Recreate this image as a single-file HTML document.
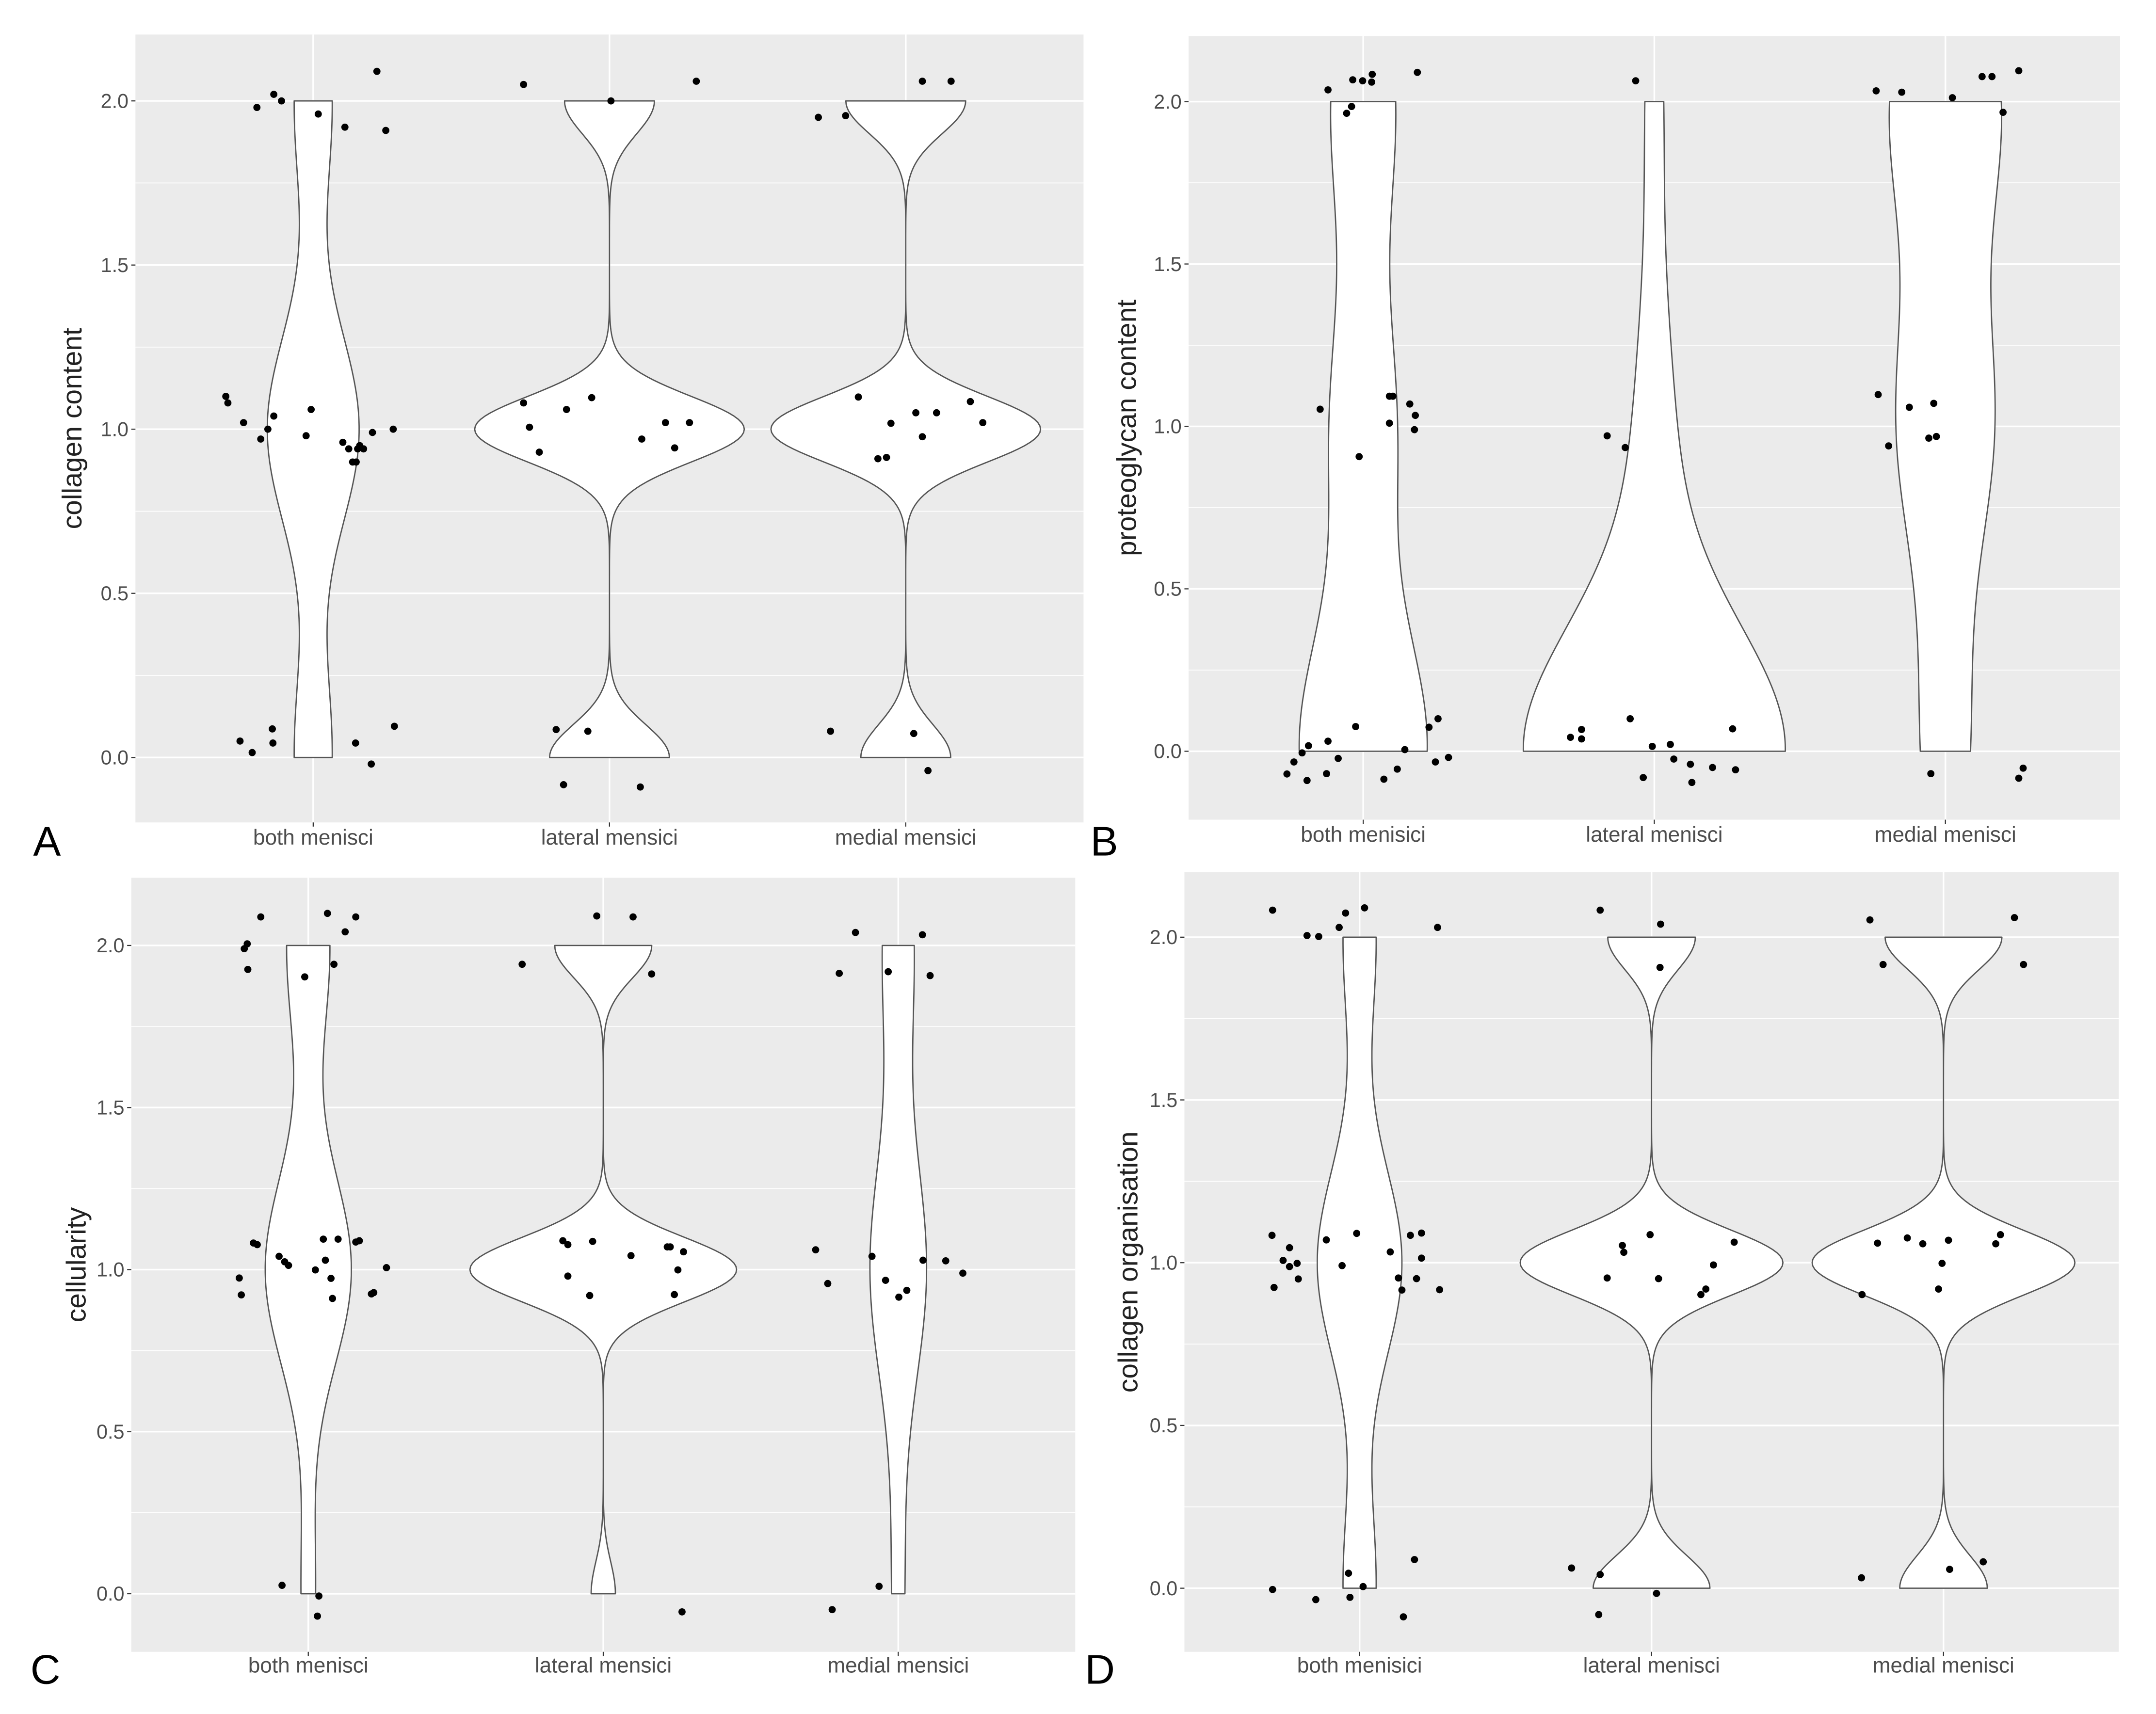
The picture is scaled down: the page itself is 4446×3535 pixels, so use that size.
<!DOCTYPE html>
<html><head><meta charset="utf-8"><style>
html,body{margin:0;padding:0;background:#fff;}
svg{display:block;}
text{font-family:"Liberation Sans",sans-serif;}
</style></head><body>
<svg id="fig" xmlns="http://www.w3.org/2000/svg" width="4446" height="3535" viewBox="0 0 1560 1240" preserveAspectRatio="none"></svg>
<script>
const categories = ["both menisci", "lateral mensici", "medial mensici"];
const categoriesB = ["both menisici", "lateral menisci", "medial menisci"];
const yTicks = [0, 0.5, 1, 1.5, 2];
const yTickLabels = ["0.0", "0.5", "1.0", "1.5", "2.0"];
const yMinor = [0.25, 0.75, 1.25, 1.75];

// violin density inputs: counts at scores 0,1,2 ; bandwidth ; max half-width (category units)
const countsA = [[7,17,7],[4,9,3],[3,9,4]];
const bwA = [0.3,0.1,0.1];
const maxWA = [0.155,0.455,0.455];
const countsB = [[16,8,8],[15,2,1],[3,6,7]];
const bwB = [0.38,0.4,0.4];
const maxWB = [0.22,0.45,0.193];
const countsC = [[3,18,9],[1,11,4],[2,9,5]];
const bwC = [0.3,0.1,0.35];
const maxWC = [0.146,0.452,0.096];
const countsD = [[7,18,7],[4,9,3],[3,9,4]];
const bwD = [0.3,0.1,0.1];
const maxWD = [0.145,0.45,0.45];

// jittered points: [x-jitter (category units), value]
const ptsA = [
 [[-0.295,1.10],[-0.288,1.08],[-0.235,1.02],[-0.133,1.04],[-0.153,1.00],[-0.177,0.97],[-0.007,1.06],[-0.024,0.98],[0.10,0.96],[0.12,0.94],[0.133,0.90],[0.145,0.90],[0.157,0.95],[0.17,0.94],[0.15,0.94],[0.20,0.99],[0.27,1.00],[-0.19,1.98],[-0.133,2.02],[-0.107,2.00],[0.017,1.96],[0.107,1.92],[0.215,2.09],[0.245,1.91],[-0.247,0.05],[-0.206,0.015],[-0.138,0.087],[-0.136,0.044],[0.143,0.044],[0.196,-0.02],[0.274,0.095]],
 [[-0.29,2.05],[0.005,2.00],[0.293,2.06],[-0.29,1.08],[-0.27,1.006],[-0.237,0.93],[-0.145,1.06],[-0.06,1.096],[0.109,0.97],[0.189,1.02],[0.22,0.943],[0.27,1.02],[-0.18,0.085],[-0.073,0.08],[-0.155,-0.083],[0.104,-0.09]],
 [[-0.295,1.95],[-0.203,1.955],[0.056,2.06],[0.153,2.06],[-0.16,1.098],[-0.05,1.018],[-0.094,0.91],[-0.065,0.914],[0.034,1.05],[0.056,0.977],[0.104,1.05],[0.218,1.084],[0.26,1.02],[-0.254,0.08],[0.027,0.073],[0.075,-0.04]]
];
const ptsB = [
 [[-0.121,2.036],[-0.036,2.067],[-0.002,2.064],[0.029,2.06],[0.031,2.084],[0.186,2.09],[-0.057,1.964],[-0.04,1.985],[-0.148,1.053],[-0.014,0.907],[0.09,1.093],[0.102,1.093],[0.09,1.01],[0.16,1.069],[0.179,1.034],[0.176,0.99],[-0.262,-0.07],[-0.238,-0.033],[-0.21,-0.005],[-0.188,0.017],[-0.193,-0.09],[-0.126,-0.069],[-0.121,0.031],[-0.086,-0.022],[-0.026,0.076],[0.071,-0.086],[0.117,-0.055],[0.143,0.005],[0.226,0.074],[0.257,0.1],[0.248,-0.033],[0.293,-0.019]],
 [[-0.064,2.064],[-0.162,0.971],[-0.1,0.935],[-0.288,0.043],[-0.25,0.067],[-0.25,0.038],[-0.083,0.1],[-0.007,0.015],[0.055,0.021],[0.067,-0.024],[0.124,-0.04],[0.129,-0.096],[0.2,-0.05],[0.269,0.069],[0.279,-0.057],[-0.038,-0.081]],
 [[-0.238,2.033],[-0.15,2.029],[0.024,2.012],[0.126,2.077],[0.16,2.077],[0.252,2.095],[0.198,1.967],[-0.231,1.098],[-0.124,1.059],[-0.04,1.071],[-0.195,0.94],[-0.057,0.964],[-0.031,0.969],[-0.05,-0.069],[0.252,-0.083],[0.267,-0.052]]
];
const ptsC = [
 [[-0.217,1.99],[-0.207,2.005],[-0.161,2.088],[-0.205,1.926],[-0.012,1.903],[0.065,2.099],[0.087,1.942],[0.125,2.042],[0.161,2.088],[-0.234,0.974],[-0.227,0.922],[-0.186,1.082],[-0.173,1.077],[-0.099,1.041],[-0.08,1.024],[-0.067,1.013],[0.024,0.999],[0.051,1.094],[0.058,1.029],[0.077,0.973],[0.082,0.911],[0.101,1.094],[0.161,1.085],[0.173,1.089],[0.214,0.925],[0.222,0.929],[0.265,1.006],[-0.089,0.026],[0.036,-0.007],[0.031,-0.069]],
 [[-0.275,1.942],[-0.022,2.091],[0.101,2.088],[0.164,1.912],[-0.137,1.089],[-0.12,1.077],[-0.036,1.087],[-0.12,0.98],[-0.046,0.92],[0.094,1.043],[0.217,1.07],[0.227,1.07],[0.272,1.055],[0.253,0.999],[0.241,0.923],[0.267,-0.056]],
 [[-0.145,2.04],[0.082,2.033],[-0.2,1.914],[-0.034,1.919],[0.108,1.907],[-0.28,1.061],[-0.239,0.957],[-0.089,1.041],[-0.043,0.967],[0.002,0.915],[0.029,0.936],[0.084,1.029],[0.161,1.027],[0.219,0.989],[-0.065,0.023],[-0.224,-0.049]]
];
const ptsD = [
 [[-0.298,2.083],[-0.18,2.005],[-0.14,2.002],[-0.07,2.03],[-0.048,2.074],[0.017,2.09],[0.267,2.03],[-0.3,1.084],[-0.293,0.924],[-0.262,1.007],[-0.24,1.046],[-0.24,0.988],[-0.214,0.998],[-0.21,0.95],[-0.114,1.07],[-0.06,0.991],[-0.01,1.09],[0.105,1.033],[0.133,0.953],[0.145,0.916],[0.174,1.084],[0.195,0.951],[0.212,1.091],[0.212,1.014],[0.274,0.917],[-0.298,-0.004],[-0.15,-0.035],[-0.038,0.046],[0.012,0.005],[-0.033,-0.028],[0.15,-0.088],[0.188,0.088]],
 [[-0.176,2.083],[0.031,2.04],[0.029,1.907],[-0.1,1.053],[-0.095,1.032],[-0.005,1.086],[-0.152,0.953],[0.024,0.951],[0.169,0.902],[0.186,0.919],[0.212,0.993],[0.283,1.063],[-0.274,0.062],[-0.176,0.042],[-0.181,-0.081],[0.017,-0.016]],
 [[-0.252,2.053],[0.243,2.06],[-0.207,1.916],[0.274,1.916],[-0.226,1.06],[-0.124,1.076],[-0.071,1.058],[0.017,1.069],[-0.005,0.998],[-0.017,0.919],[0.179,1.058],[0.195,1.086],[-0.279,0.902],[-0.281,0.032],[0.021,0.058],[0.136,0.081]]
];

const NS = "http://www.w3.org/2000/svg";
const svg = document.getElementById("fig");
function mk(tag, attrs, parent) {
  const e = document.createElementNS(NS, tag);
  for (const k in attrs) e.setAttribute(k, attrs[k]);
  (parent || svg).appendChild(e);
  return e;
}

const panels = [
  {id:"a", letter:"A", title:"collagen content", cats:categories, counts:countsA, bw:bwA, maxW:maxWA, pts:ptsA,
   left:98, right:784, top:25, bottom:595, y2:73, y0:548, titleX:59, letterX:24, letterY:619, tickY:611},
  {id:"b", letter:"B", title:"proteoglycan content", cats:categoriesB, counts:countsB, bw:bwB, maxW:maxWB, pts:ptsB,
   left:860, right:1534, top:26, bottom:593, y2:73.5, y0:543.5, titleX:822, letterX:789, letterY:619, tickY:609},
  {id:"c", letter:"C", title:"cellularity", cats:categories, counts:countsC, bw:bwC, maxW:maxWC, pts:ptsC,
   left:95, right:778, top:635, bottom:1195, y2:684, y0:1153, titleX:62, letterX:22, letterY:1218, tickY:1210},
  {id:"d", letter:"D", title:"collagen organisation", cats:categoriesB, counts:countsD, bw:bwD, maxW:maxWD, pts:ptsD,
   left:857, right:1533, top:631, bottom:1195, y2:678, y0:1149, titleX:823, letterX:785, letterY:1218, tickY:1210}
];

panels.forEach(p => {
  const g = mk("g", {});
  
  
  const W = p.right - p.left;
  const sp = W / 3.2;
  const xs = i => p.left + (i + 0.6) * sp;
  const ys = v => p.y0 + (p.y2 - p.y0) * v / 2;

  const bg = mk("rect", {x:p.left, y:p.top, width:W, height:p.bottom - p.top, fill:"#ebebeb"}, g);
  
  
  yMinor.forEach(v => {
    const l = mk("line", {x1:p.left, x2:p.right, y1:ys(v), y2:ys(v), stroke:"#fff", "stroke-width":0.6}, g);
    
    
  });
  yTicks.forEach((v, i) => {
    const l = mk("line", {x1:p.left, x2:p.right, y1:ys(v), y2:ys(v), stroke:"#fff", "stroke-width":1.2}, g);
    
    
    const tk = mk("line", {x1:p.left - 3, x2:p.left, y1:ys(v), y2:ys(v), stroke:"#333", "stroke-width":0.8}, g);
    
    
    const t = mk("text", {x:p.left - 5, y:ys(v) + 5, "text-anchor":"end", "font-size":14.5, fill:"#4d4d4d"}, g);
    t.textContent = yTickLabels[i];
    
    
  });
  p.cats.forEach((c, i) => {
    const l = mk("line", {x1:xs(i), x2:xs(i), y1:p.top, y2:p.bottom, stroke:"#fff", "stroke-width":1.2}, g);
    
    
    const tk = mk("line", {x1:xs(i), x2:xs(i), y1:p.bottom, y2:p.bottom + 3, stroke:"#333", "stroke-width":0.8}, g);
    
    
    const t = mk("text", {x:xs(i), y:p.tickY, "text-anchor":"middle", "font-size":15.5, fill:"#4d4d4d"}, g);
    t.textContent = c;
    
    
  });

  // violins
  p.counts.forEach((cnt, i) => {
    const bw = p.bw[i];
    const dens = y => cnt.reduce((s, n, k) => s + n * Math.exp(-((y - k) * (y - k)) / (2 * bw * bw)), 0);
    const N = 200;
    let mx = 0; const ds = [];
    for (let j = 0; j <= N; j++) { const y = 2 * j / N; const d = dens(y); ds.push([y, d]); if (d > mx) mx = d; }
    const half = ds.map(([y, d]) => [y, d / mx * p.maxW[i] * sp]);
    let dStr = "";
    half.forEach(([y, h], j) => { dStr += (j ? "L" : "M") + (xs(i) + h).toFixed(2) + "," + ys(y).toFixed(2); });
    for (let j = half.length - 1; j >= 0; j--) { dStr += "L" + (xs(i) - half[j][1]).toFixed(2) + "," + ys(half[j][0]).toFixed(2); }
    dStr += "Z";
    const v = mk("path", {d:dStr, fill:"#fff", stroke:"#555", "stroke-width":0.95, "stroke-linejoin":"round"}, g);
    
    
  });
  // points
  p.pts.forEach((arr, i) => {
    arr.forEach(([j, v]) => {
      const c = mk("circle", {cx:xs(i) + j * sp, cy:ys(v), r:2.6, fill:"#000"}, g);
      
      
    });
  });

  const cy = (p.top + p.bottom) / 2;
  const tt = mk("text", {x:p.titleX, y:cy, transform:"rotate(-90 " + p.titleX + " " + cy + ")", "text-anchor":"middle", "font-size":20, fill:"#222"}, g);
  tt.textContent = p.title;
  
  
  const lt = mk("text", {x:p.letterX, y:p.letterY, "font-size":30, fill:"#000"}, g);
  lt.textContent = p.letter;
  
  
});
</script>
</body></html>
